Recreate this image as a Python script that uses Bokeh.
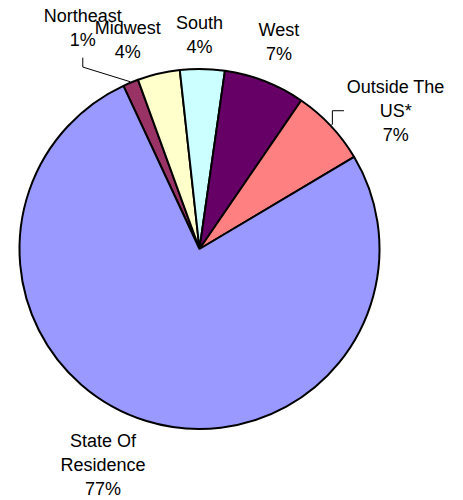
import numpy as np
from bokeh.plotting import figure
from bokeh.models import Range1d, ColumnDataSource
from bokeh.core.properties import value
from bokeh.embed import file_html
from bokeh.resources import INLINE

# ---- data ----
categories = ["Northeast", "Midwest", "South", "West", "Outside The US*", "State Of Residence"]
shares = [1.4, 3.8, 4.0, 7.3, 6.9, 76.6]
label_names = ["Northeast", "Midwest", "South", "West", "Outside The\nUS*", "State Of\nResidence"]
colors = ["#993366", "#FFFFCC", "#CCFFFF", "#660066", "#FF8080", "#9999FF"]

# ---- layout ----
R = 180.0
START_CW = -25.0  # degrees clockwise from 12 o'clock
label_angle_shift = [-5.4, -5.8, -0.9, -0.3, 8.0, 6.9]
label_radius = [249.6, 221.0, 214.5, 222.0, 240.0, 237.0]
FONT = "Liberation Sans"

vals = np.array(shares, dtype=float)
frac = vals / vals.sum()
cum = np.concatenate([[0.0], np.cumsum(frac)]) * 360.0 + START_CW
cw_start = cum[:-1]
cw_end = cum[1:]
cw_mid = (cw_start + cw_end) / 2.0

# convert clockwise-from-top to math angles
start_angle = np.radians(90.0 - cw_end)
end_angle = np.radians(90.0 - cw_start)

src = ColumnDataSource(dict(
    x=[0] * len(vals), y=[0] * len(vals),
    start=start_angle, end=end_angle, color=colors, name=categories,
))

p = figure(width=463, height=500, output_backend="svg", toolbar_location=None,
           x_range=Range1d(-199, 264), y_range=Range1d(-251.5, 248.5),
           min_border=0, tools="")
p.axis.visible = False
p.grid.visible = False
p.outline_line_color = None
p.background_fill_color = "white"
p.border_fill_color = "white"

p.wedge(x="x", y="y", radius=R, start_angle="start", end_angle="end",
        fill_color="color", line_color="black", line_width=2, source=src)

# labels
la = np.radians(90.0 - (cw_mid + np.array(label_angle_shift)))
lr = np.array(label_radius)
lx = lr * np.cos(la)
ly = lr * np.sin(la)
texts = [f"{n}\n{int(round(v))}%" for n, v in zip(label_names, vals)]
lsrc = ColumnDataSource(dict(x=lx, y=ly, text=texts))
p.text(x="x", y="y", text="text", source=lsrc, text_font=value(FONT),
       text_font_size="18px", text_color="black", text_align="center",
       text_baseline="middle", text_line_height=1.2)

# leader lines for Northeast (0) and Outside The US* (4)
def edge(i, r=R + 1):
    a = np.radians(90.0 - cw_mid[i])
    return r * np.cos(a), r * np.sin(a)

ex, ey = edge(0)
p.line([lx[0], lx[0], ex], [ly[0] - 29.3, ly[0] - 38.7, ey], line_color="black", line_width=1)
ex, ey = edge(4)
p.line([lx[4] - 51.7, lx[4] - 63.3, lx[4] - 63.3], [ly[4], ly[4], ey + 1],
       line_color="black", line_width=1)
p.line([lx[4] - 63.3, ex], [ey + 1, ey], line_color="black", line_width=1)

open("out.html", "w").write(file_html(p, INLINE))
